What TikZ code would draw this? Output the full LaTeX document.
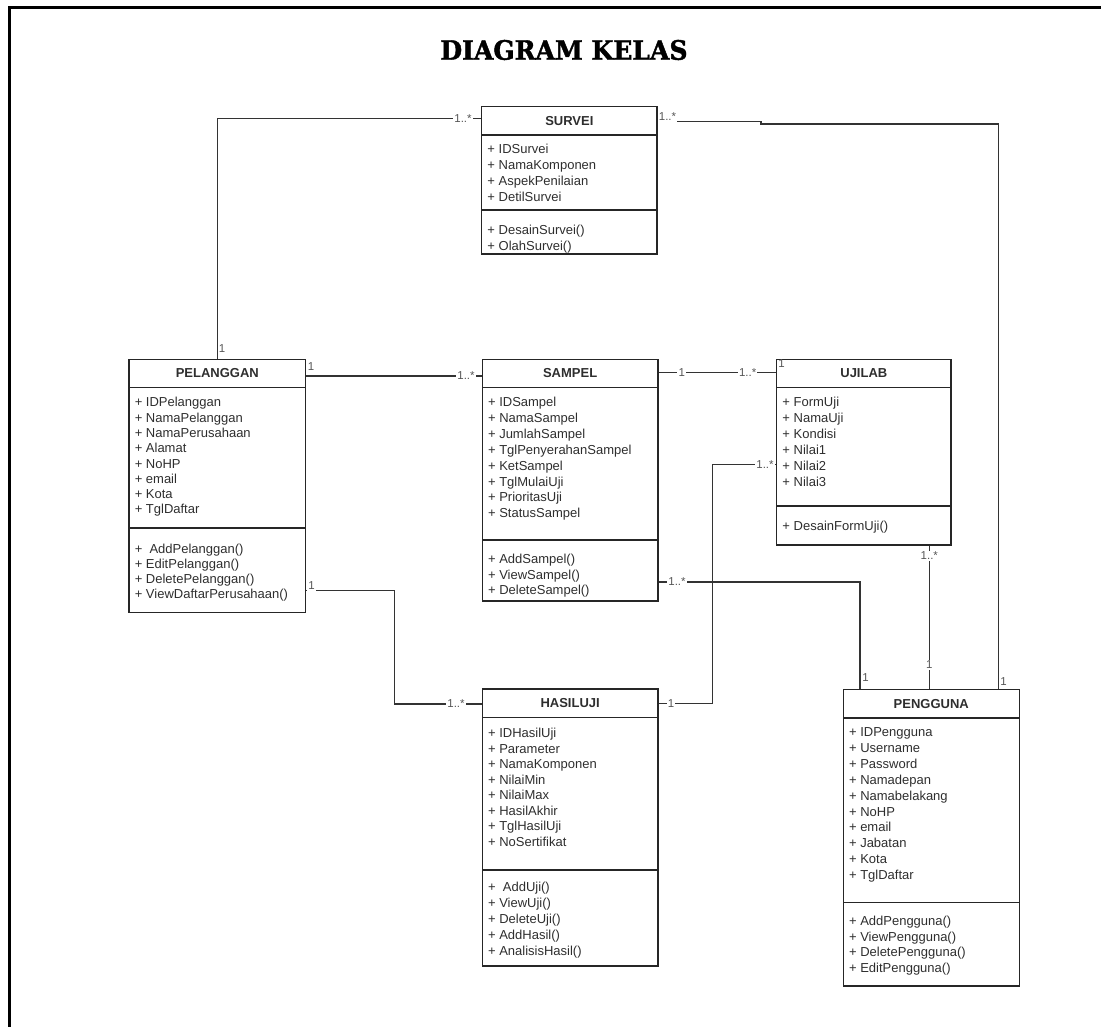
\documentclass[tikz,border=0pt]{standalone}
\usepackage{graphicx}
\usepackage{fontspec}
\setmainfont{Liberation Sans}
\newfontfamily\titlefont[FakeBold=1.6]{DejaVu Serif Bold}
\usetikzlibrary{fit,calc}
\definecolor{txt}{HTML}{2E2E2E}
\definecolor{mult}{HTML}{555555}

\tikzset{
  box/.style={draw=black!85,line width=0.85pt,inner sep=0pt},
  sepline/.style={draw=black!85,line width=0.85pt},
  hdr/.style={font=\bfseries\fontsize{9.75}{11.7}\selectfont,text=txt,inner sep=0pt},
  row/.style={anchor=base west,font=\fontsize{9.75}{11.7}\selectfont,text=txt,inner sep=0pt},
  mlt/.style={font=\fontsize{8.6}{10.3}\selectfont,text=mult,fill=white,inner sep=0.8pt},
  link/.style={draw=black!80,line width=0.85pt}
}

% class box: name, left, top, right, header bottom, separator, bottom, title
\newcommand\umlclass[8]{%
  \coordinate (#1-nw) at (#2,#3);
  \coordinate (#1-se) at (#4,#7);
  \node[box,fit=(#1-nw) (#1-se)] (#1) {};
  \draw[sepline] (#2,#5) -- (#4,#5);
  \draw[sepline] (#2,#6) -- (#4,#6);
  \node[hdr] (#1-title) at ({(#2+#4)/2},{(#3+#5)/2}) {#8};
}
% rows of a compartment: name prefix, x, first row centre, step, list
\newcommand\umlrows[5]{%
  \foreach \rowtext [count=\i] in {#5}
    \node[row] (#1\i) at (#2,{#3+4.5+(\i-1)*#4}) {\rowtext};
}

\begin{document}
\begin{tikzpicture}[x=0.75pt,y=-0.75pt]
\useasboundingbox (0,0) rectangle (1101,1026);

% frame
\draw[line width=2.25pt,line join=miter] (9.7,1040) -- (9.7,7.5) -- (1110,7.5);

% title
\node (title) at (564,50) {\scalebox{0.94}[1]{\titlefont\fontsize{20}{24}\selectfont DIAGRAM KELAS}};

% SURVEI
\umlclass{sur}{481.7}{106.7}{657}{135}{210}{254}{SURVEI}
\umlrows{sur-a}{487.2}{149}{15.9}{+ IDSurvei,+ NamaKomponen,+ AspekPenilaian,+ DetilSurvei}
\umlrows{sur-m}{487.2}{230}{15.5}{+ DesainSurvei(),+ OlahSurvei()}

% PELANGGAN
\umlclass{pel}{129}{359.3}{305.7}{387.7}{528}{612.7}{PELANGGAN}
\umlrows{pel-a}{134.5}{402.3}{15.3}{+ IDPelanggan,+ NamaPelanggan,+ NamaPerusahaan,+ Alamat,+ NoHP,+ email,+ Kota,+ TglDaftar}
\umlrows{pel-m}{134.5}{549.3}{14.9}{+\ \ AddPelanggan(),+ EditPelanggan(),+ DeletePelanggan(),+ ViewDaftarPerusahaan()}

% SAMPEL
\umlclass{sam}{482.3}{359.3}{658}{387.7}{540}{601}{SAMPEL}
\umlrows{sam-a}{487.8}{402.3}{15.86}{+ IDSampel,+ NamaSampel,+ JumlahSampel,+ TglPenyerahanSampel,+ KetSampel,+ TglMulaiUji,+ PrioritasUji,+ StatusSampel}
\umlrows{sam-m}{487.8}{559}{15.5}{+ AddSampel(),+ ViewSampel(),+ DeleteSampel()}

% UJILAB
\umlclass{uji}{776.7}{359.3}{951}{387.7}{506}{545}{UJILAB}
\umlrows{uji-a}{782.2}{402.3}{15.9}{+ FormUji,+ NamaUji,+ Kondisi,+ Nilai1,+ Nilai2,+ Nilai3}
\umlrows{uji-m}{782.2}{525.7}{15.5}{+ DesainFormUji()}

% HASILUJI
\umlclass{has}{482.3}{689}{658}{717.3}{870}{966}{HASILUJI}
\umlrows{has-a}{487.8}{733.3}{15.5}{+ IDHasilUji,+ Parameter,+ NamaKomponen,+ NilaiMin,+ NilaiMax,+ HasilAkhir,+ TglHasilUji,+ NoSertifikat}
\umlrows{has-m}{487.8}{887}{16}{+\ \ AddUji(),+ ViewUji(),+ DeleteUji(),+ AddHasil(),+ AnalisisHasil()}

% PENGGUNA
\umlclass{gun}{843.3}{689.3}{1019.3}{718}{902.3}{986}{PENGGUNA}
\umlrows{gun-a}{848.8}{732.3}{15.85}{+ IDPengguna,+ Username,+ Password,+ Namadepan,+ Namabelakang,+ NoHP,+ email,+ Jabatan,+ Kota,+ TglDaftar}
\umlrows{gun-m}{848.8}{920.7}{15.87}{+ AddPengguna(),+ ViewPengguna(),+ DeletePengguna(),+ EditPengguna()}

% bend points of the associations
\coordinate (k1)  at (217.3,118.3);
\coordinate (k2a) at (761,121.7);
\coordinate (k2b) at (761,124);
\coordinate (k2c) at (998.3,124);
\coordinate (k3)  at (0,376);
\coordinate (k4)  at (0,372.5);
\coordinate (k5a) at (712.7,703.3);
\coordinate (k5b) at (712.7,464.3);
\coordinate (k6)  at (860,582);
\coordinate (k7)  at (929.3,600);
\coordinate (k8a) at (394.3,590.7);
\coordinate (k8b) at (394.3,704);

% associations
\draw[link] (pel.north) |- (sur.west |- k1);
\draw[link] (sur.east |- k2a) -- (k2a) -- (k2b) -- (k2c) -- (k2c |- gun.north);
\draw[link] (pel.east |- k3) -- (sam.west |- k3);
\draw[link] (sam.east |- k4) -- (uji.west |- k4);
\draw[link] (has.east |- k5a) -- (k5a) -- (k5b) -- (uji.west |- k5b);
\draw[link] (sam.east |- k6) -- (k6) -- (k6 |- gun.north);
\draw[link] (k7 |- uji.south) -- (k7 |- gun.north);
\draw[link] (pel.east |- k8a) -- (k8a) -- (k8b) -- (has.west |- k8b);

% multiplicities
\node[mlt] (m1a) at (222,348.5) {1};
\node[mlt] (m1b) at (463,118.3) {1..*};
\node[mlt] (m2a) at (667.5,116.5) {1..*};
\node[mlt] (m2b) at (1003.5,681.5) {1};
\node[mlt] (m3a) at (311,366.5) {1};
\node[mlt] (m3b) at (466,376) {1..*};
\node[mlt] (m4a) at (681.7,372.5) {1};
\node[mlt] (m4b) at (747.7,372.5) {1..*};
\node[mlt,fill=none] (m4c) at (781.5,364) {1};
\node[mlt] (m5a) at (671,703.3) {1};
\node[mlt] (m5b) at (765,464.3) {1..*};
\node[mlt] (m6a) at (677,582) {1..*};
\node[mlt] (m6b) at (865.5,677.5) {1};
\node[mlt] (m7a) at (929.3,556) {1..*};
\node[mlt] (m7b) at (929.3,665) {1};
\node[mlt] (m8a) at (311.5,586) {1};
\node[mlt] (m8b) at (456,704) {1..*};
\end{tikzpicture}
\end{document}
